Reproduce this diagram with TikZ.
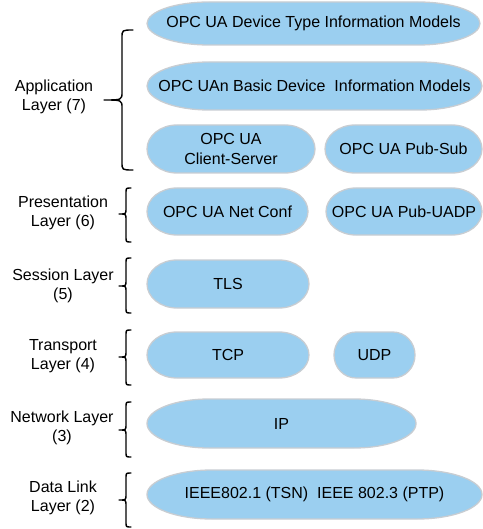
\documentclass[tikz,border=0pt]{standalone}
\usepackage{fontspec}
\setmainfont{Liberation Sans}
\usetikzlibrary{backgrounds}
\definecolor{boxfill}{RGB}{155,207,240}
\definecolor{boxline}{RGB}{200,205,210}
\tikzset{
  base/.style={fill=boxfill, draw=boxline, line width=1.3pt},
  pill/.style={rectangle, inner sep=0pt, outer sep=0pt, align=center, font=\fontsize{16}{20}\selectfont},
  lbl/.style={font=\fontsize{16}{19.5}\selectfont, align=center, inner sep=0pt},
  brc/.style={draw=black, line width=1.4pt, line cap=round, line join=round}
}
% background shape with half-elliptic ends: name, x radius, y radius
\newcommand\pillbg[3]{%
  \draw[base] ([xshift=#2]#1.north west) -- ([xshift=-#2]#1.north east)
    arc[start angle=90, end angle=-90, x radius=#2, y radius=#3]
    -- ([xshift=#2]#1.south west)
    arc[start angle=270, end angle=90, x radius=#2, y radius=#3] -- cycle;}
\newcommand\layerbrace[7]{% tipx, vx, hx, top, mid, bottom, r
  \draw[brc] (#3,#4) .. controls (#2,#4) .. (#2,{#4+#7}) -- (#2,{#5-#7})
    .. controls (#2,#5) .. (#1,#5) .. controls (#2,#5) .. (#2,{#5+#7})
    -- (#2,{#6-#7}) .. controls (#2,#6) .. (#3,#6);}
\begin{document}
\begin{tikzpicture}[x=1pt,y=-1pt]
\useasboundingbox (0,0) rectangle (482,529);
% application layer
\node[pill, minimum width=333pt, minimum height=43pt] (dtim) at (313.5,23.5) {OPC UA Device Type Information Models};
\node[pill, minimum width=335pt, minimum height=48pt] (bdim) at (314.5,86) {OPC UAn Basic Device\ \ Information Models};
\node[pill, minimum width=168pt, minimum height=48pt] (cs) at (231,149) {OPC UA\\Client-Server};
\node[pill, minimum width=157pt, minimum height=48pt] (ps) at (403.5,149) {OPC UA Pub-Sub};
% presentation
\node[pill, minimum width=161pt, minimum height=47pt] (nc) at (227.5,211.5) {OPC UA Net Conf};
\node[pill, minimum width=156pt, minimum height=47pt] (uadp) at (404,211.5) {OPC UA Pub-UADP};
% session
\node[pill, minimum width=162pt, minimum height=48pt] (tls) at (228,284) {TLS};
% transport
\node[pill, minimum width=162pt, minimum height=46pt] (tcp) at (228,355) {TCP};
\node[pill, minimum width=81pt, minimum height=46pt] (udp) at (374.5,355) {UDP};
% network
\node[pill, minimum width=269pt, minimum height=49pt] (ip) at (281.5,423.5) {IP};
% data link
\node[pill, minimum width=335pt, minimum height=49pt] (ieee) at (314.5,494.5) {IEEE802.1 (TSN)\ \ IEEE 802.3 (PTP)};
\begin{scope}[on background layer]
  \pillbg{dtim}{62pt}{21.5pt}
  \pillbg{bdim}{62pt}{24pt}
  \pillbg{cs}{30pt}{24pt}
  \pillbg{ps}{30pt}{24pt}
  \pillbg{nc}{30pt}{23.5pt}
  \pillbg{uadp}{30pt}{23.5pt}
  \pillbg{tls}{30pt}{24pt}
  \pillbg{tcp}{30pt}{23pt}
  \pillbg{udp}{22pt}{23pt}
  \pillbg{ip}{62pt}{24.5pt}
  \pillbg{ieee}{65pt}{24.5pt}
\end{scope}
% labels
\node[lbl] (l7) at (54,97) {Application\\Layer (7)};
\node[lbl] (l6) at (63,213) {Presentation\\Layer (6)};
\node[lbl] (l5) at (63,286) {Session Layer\\(5)};
\node[lbl] (l4) at (63,356) {Transport\\Layer (4)};
\node[lbl] (l3) at (62,428) {Network Layer\\(3)};
\node[lbl] (l2) at (63,498) {Data Link\\Layer (2)};
% braces
\layerbrace{104}{122}{133}{30}{100}{170}{8}
\layerbrace{119}{126}{131}{188}{214}{242}{5}
\layerbrace{119}{126}{131}{258}{286}{313}{5}
\layerbrace{119}{126}{131}{330}{357}{385}{5}
\layerbrace{119}{126}{131}{402}{430}{457}{5}
\layerbrace{119}{126}{131}{473}{500}{527}{5}
\end{tikzpicture}
\end{document}
